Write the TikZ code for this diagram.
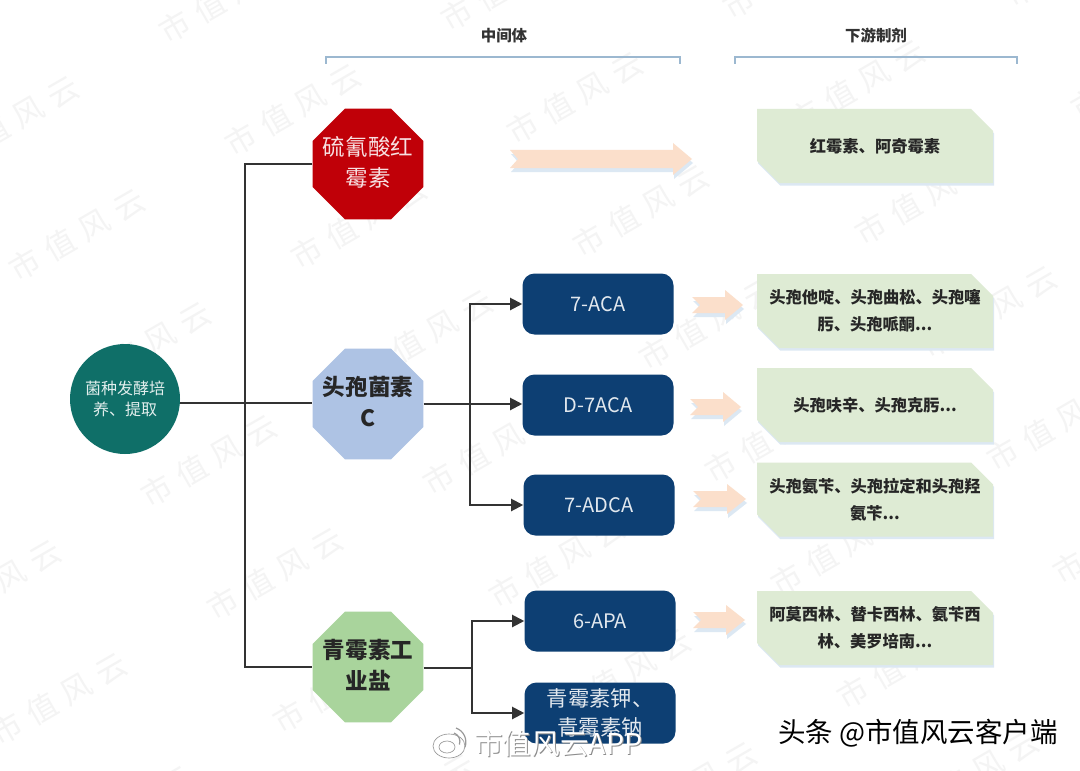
\documentclass[tikz,border=0pt]{standalone}
\usepackage{fontspec}
\setmainfont{Noto Sans CJK SC}
\usetikzlibrary{shapes.geometric,arrows.meta,calc}
\definecolor{navybox}{HTML}{0D3F73}
\definecolor{greenbox}{HTML}{DEEBD4}
\definecolor{peach}{HTML}{FBDFCB}
\definecolor{peachshadow}{HTML}{DCE8F3}
\definecolor{bracketblue}{HTML}{9CB8D0}
\definecolor{wm}{HTML}{F4F4F4}
\definecolor{HTMLroot}{HTML}{0F6F68}
\definecolor{HTMLred}{HTML}{C00008}
\definecolor{HTMLblue}{HTML}{AEC3E4}
\definecolor{HTMLgreen}{HTML}{A9D49C}
\newcommand{\zbox}[1]{\makebox[0pt][c]{\raisebox{-.3em}[0pt][0pt]{\begin{tabular}{@{}c@{}}#1\end{tabular}}}}
\tikzset{
  x=0.75pt,y=-0.75pt,
  conn/.style={line width=1.5pt,draw=black!80},
  connarrow/.style={conn,-{Triangle[length=9pt,width=9pt]}},
  octa/.style={regular polygon,regular polygon sides=8,
    inner sep=0pt,minimum size=120*0.75pt,
    font=\fontsize{16.9}{23.5}\selectfont},
  navy/.style={rectangle,rounded corners=9pt,fill=navybox,text=white!88!navybox,
    minimum width=151*0.75pt,minimum height=61*0.75pt,inner sep=0pt,align=center,
    font=\fontsize{15}{22.5}\selectfont},
  product/.style={rectangle,minimum width=236*0.75pt,minimum height=74*0.75pt,inner sep=0pt,
    text=black!85,align=center,
    font=\fontsize{12.2}{20}\selectfont\bfseries},
  heading/.style={font=\fontsize{11.6}{14}\selectfont\bfseries,text=black!80,inner sep=0pt},
  bracketline/.style={line width=1pt,draw=bracketblue},
  watermark/.style={rotate=30,text=wm,inner sep=0pt,font=\fontsize{23}{23}\selectfont},
}
\newcommand{\flowarrow}[6]{% x-tail, x-notch, x-headbase, x-tip, y-centre, half-body
  \foreach \dx/\dy/\col in {1/4/peachshadow,0/0/peach}{
    \fill[\col,shift={(\dx,\dy)}] (#1,#5-#6) -- (#3,#5-#6) -- (#3,#5-#6-7) -- (#4,#5) -- (#3,#5+#6+7) -- (#3,#5+#6) -- (#1,#5+#6) -- (#2,#5) -- cycle;
  }
}
% green panel with two cut corners: name, centre x, centre y, text
\newcommand{\prodbox}[4]{%
  \foreach \dx/\dy/\col in {1/2.5/peachshadow,0/0/greenbox}{
    \fill[\col,shift={(#2+\dx,#3+\dy)}] (-118,-37) -- (96,-37) -- (118,-15) -- (118,37) -- (-96,37) -- (-118,15) -- cycle;
  }
  \node[product] (#1) at (#2,#3) {#4};
}
\begin{document}
\begin{tikzpicture}
\useasboundingbox (0,0) rectangle (1080,770);
\fill[white] (0,0) rectangle (1080,770);
% watermark lattice
\foreach \i in {-2,...,3}{
  \foreach \j in {-1,...,6}{
    \node[watermark] at ({293+\i*282+\j*66},{110-\i*12+\j*113}) {市\hspace{7pt}值\hspace{7pt}风\hspace{7pt}云};
  }
}
% nodes
\node[circle,fill=HTMLroot,inner sep=0pt,minimum size=110*0.75pt,align=center,text=white!88!HTMLroot,
  font=\fontsize{12}{15.5}\selectfont] (root) at (125,399) {菌种发酵培\\养、提取};
\node[octa,fill=HTMLred,text=white!88!HTMLred] (ery) at (368,164) {\zbox{硫氰酸红\\霉素}};
\node[octa,fill=HTMLblue,text=black!85,font=\fontsize{16.9}{23.5}\selectfont\bfseries] (cs) at (368,404) {\zbox{头孢菌素\\C}};
\node[octa,fill=HTMLgreen,text=black!85,font=\fontsize{16.9}{23.5}\selectfont\bfseries] (pen) at (368,667) {\zbox{青霉素工\\业盐}};
\node[navy] (aca) at (598,304) {7-ACA};
\node[navy] (daca) at (598,405) {D-7ACA};
\node[navy] (adca) at (599,505) {7-ADCA};
\node[navy] (apa) at (600,621) {6-APA};
\node[navy,font=\fontsize{16}{22}\selectfont] (salt) at (600,713) {青霉素钾、\\青霉素钠};
\prodbox{p1}{875}{146}{红霉素、阿奇霉素}
\prodbox{p2}{875}{311}{头孢他啶、头孢曲松、头孢噻\\肟、头孢哌酮...}
\prodbox{p3}{875}{405}{头孢呋辛、头孢克肟...}
\prodbox{p4}{875}{499.5}{头孢氨苄、头孢拉定和头孢羟\\氨苄...}
\prodbox{p5}{875}{628}{阿莫西林、替卡西林、氨苄西\\林、美罗培南...}
% headings
\node[heading] (h1) at (504,36) {中间体};
\node[heading] (h2) at (876,36) {下游制剂};
\coordinate (b1l) at (326,57); \coordinate (b1r) at (680,57);
\coordinate (b2l) at (735,57); \coordinate (b2r) at (1017,57);
\draw[bracketline] ($(b1l)+(0,7)$) -- (b1l) -- (b1r) -- ($(b1r)+(0,7)$);
\draw[bracketline] ($(b2l)+(0,7)$) -- (b2l) -- (b2r) -- ($(b2r)+(0,7)$);
% connectors
\coordinate (tr) at (245,403);
\coordinate (j1) at (470,404);
\coordinate (j2) at (472,668);
\draw[conn] (root.east |- tr) -- (tr) -- (cs.west |- tr);
\draw[conn] (ery.west) -| (tr) |- (pen.west);
\draw[conn] (cs.east |- j1) -- (j1);
\draw[connarrow] (j1) -- (daca.west |- j1);
\draw[connarrow] (j1) |- (aca.west);
\draw[connarrow] (j1) |- (adca.west);
\draw[conn] (pen.east |- j2) -- (j2);
\draw[connarrow] (j2) |- (apa.west);
\draw[connarrow] (j2) |- (salt.west);
% flow arrows
\flowarrow{510}{518}{673}{692}{159}{9}
\flowarrow{692}{700}{725}{743}{305}{8}
\flowarrow{690}{698}{723}{741}{407}{8}
\flowarrow{693}{701}{727}{746}{499}{8}
\flowarrow{693}{701}{726}{745}{620}{8}
% overlay labels
\node[inner sep=0pt,anchor=west,text=black!45,font=\fontsize{21.5}{24}\selectfont] (wbs) at (475,745) {市值风云APP};
\node[inner sep=0pt,anchor=west,text=white,font=\fontsize{21.5}{24}\selectfont] (wb) at (474,744) {市值风云APP};
\draw[white,line width=1pt,fill=white,fill opacity=0.35] (449,746) ellipse (15 and 11);
\draw[black!40,line width=0.5pt] (449,746) ellipse (16 and 12);
\draw[black!40,line width=0.5pt] (447,747) ellipse (8 and 6);
\draw[black!40,line width=0.9pt] (454,733) arc (-70:20:9);
\draw[black!40,line width=0.9pt] (456,728) arc (-70:20:15);
\node[inner sep=0pt,anchor=west,text=black,font=\fontsize{20.6}{24}\selectfont] (tt) at (778,733) {头条 @市值风云客户端};
\end{tikzpicture}
\end{document}
